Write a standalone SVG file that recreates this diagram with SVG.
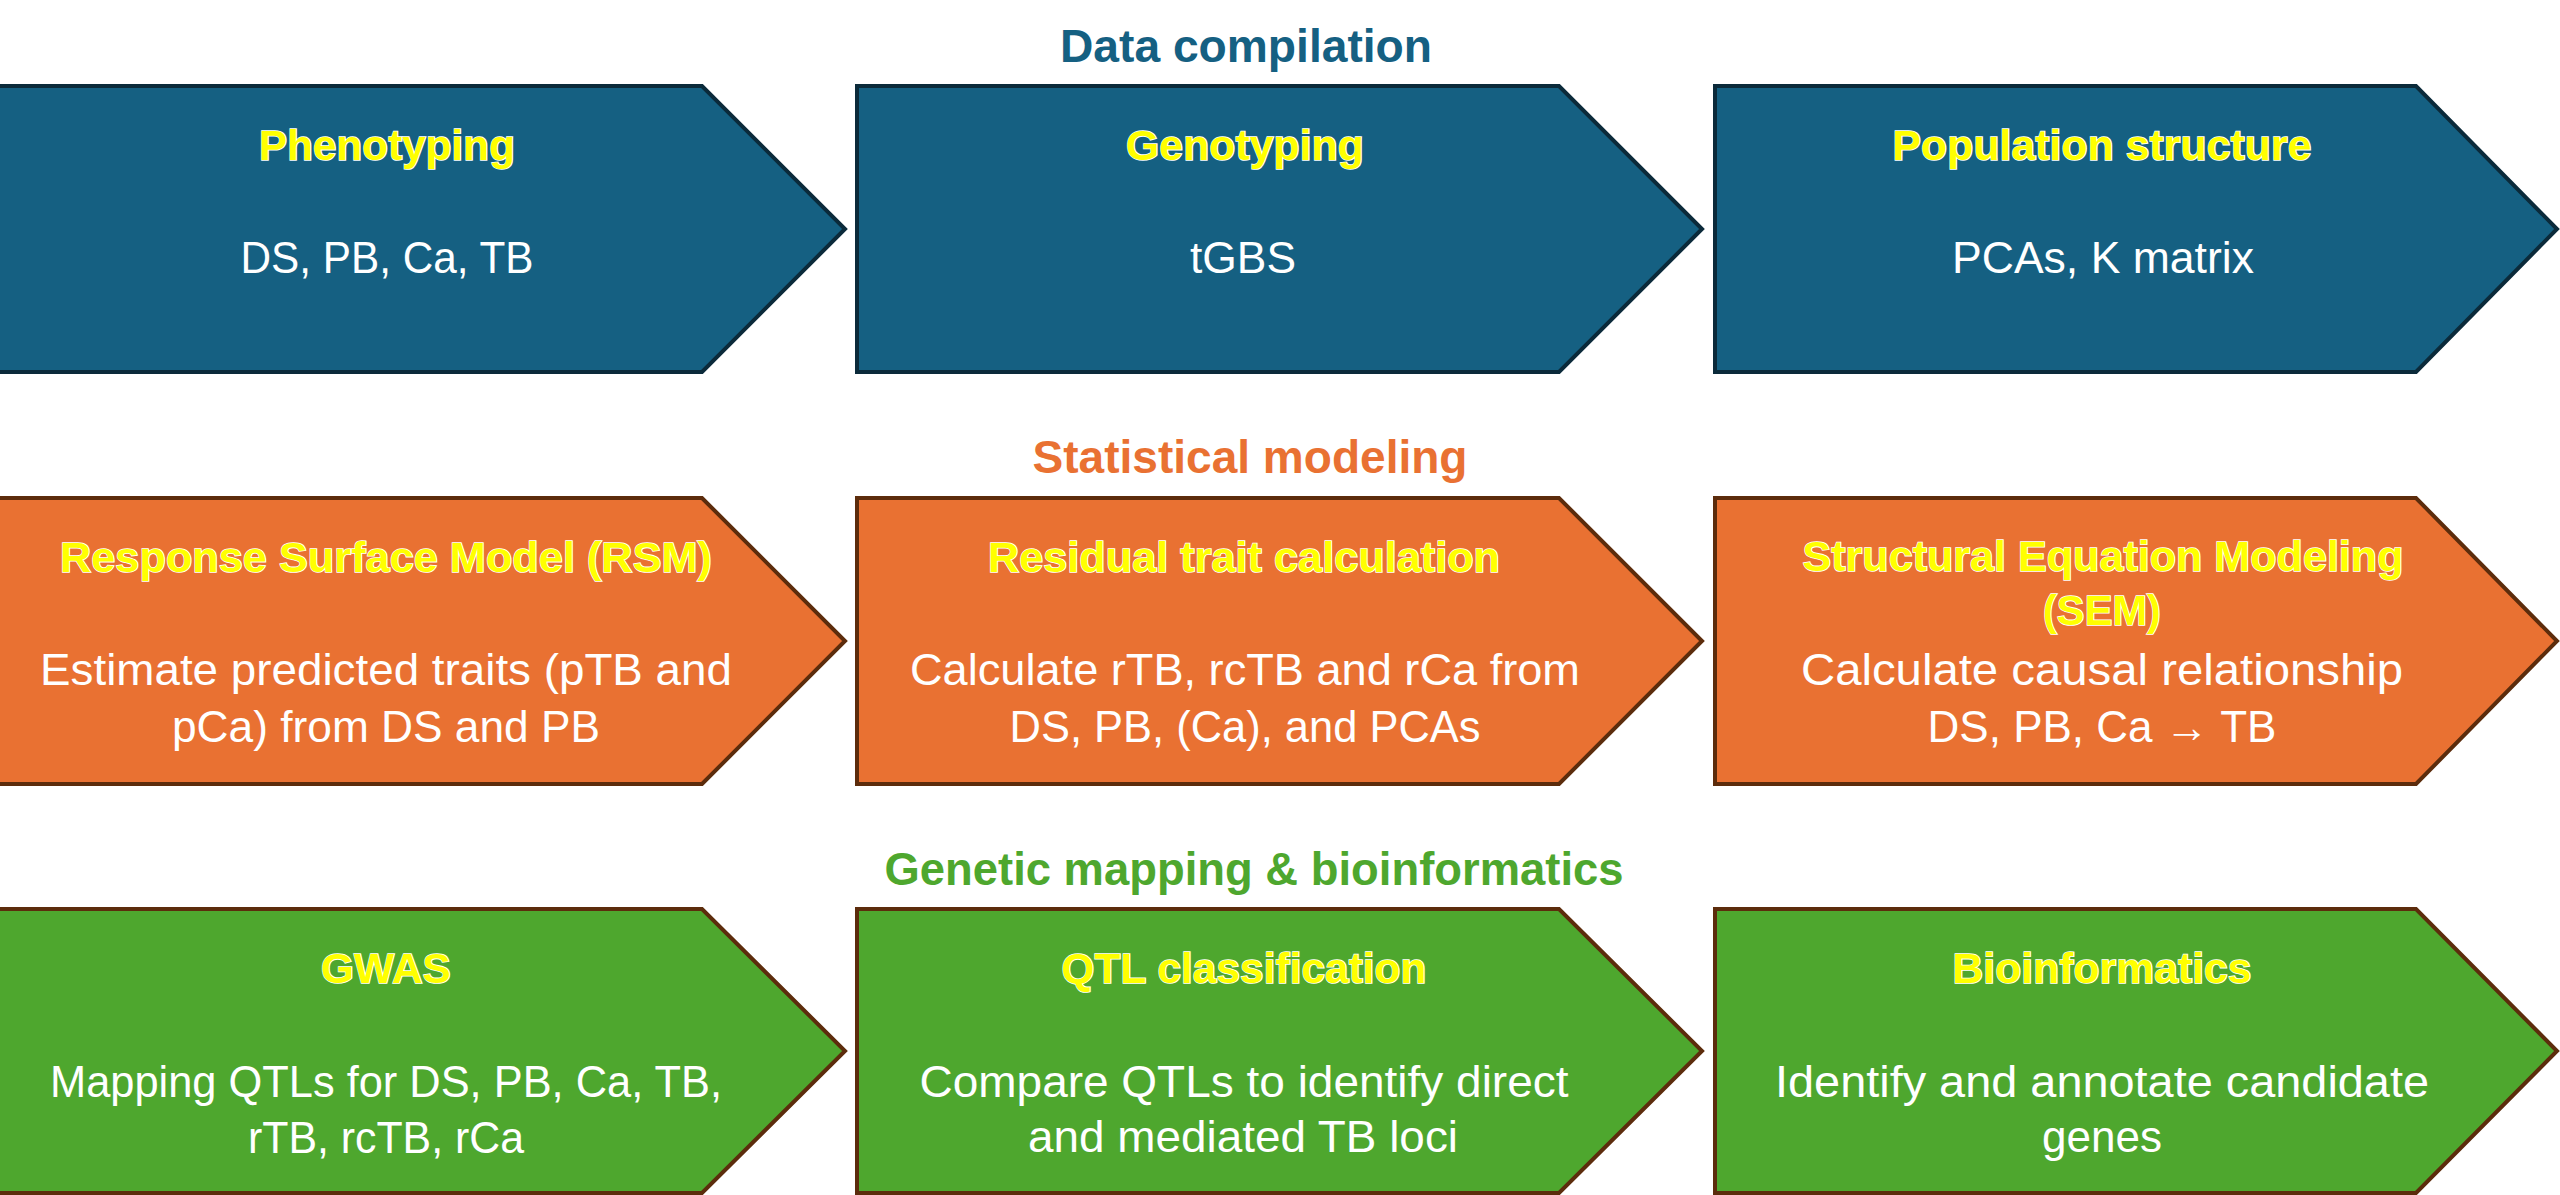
<svg xmlns="http://www.w3.org/2000/svg" width="2560" height="1195" viewBox="0 0 2560 1195">
<style>
.blue{fill:#156082;stroke:#0B2A3A;stroke-width:4;stroke-linejoin:miter}
.orange{fill:#E97132;stroke:#5C2C0C;stroke-width:4;stroke-linejoin:miter}
.green{fill:#4EA72E;stroke:#5C2C0C;stroke-width:4;stroke-linejoin:miter}
.head{font-family:"Liberation Sans",Arial,sans-serif;font-weight:bold;font-size:46px;text-anchor:middle}
.title{font-family:"Liberation Sans",Arial,sans-serif;font-weight:bold;font-size:43px;text-anchor:middle;fill:#FFFF00;stroke:#FFFFFF;stroke-width:1.6;paint-order:stroke}
.body{font-family:"Liberation Sans",Arial,sans-serif;font-size:44px;text-anchor:middle;fill:#FFFFFF}
</style>
<rect width="2560" height="1195" fill="#FFFFFF"/>
<g id="headings">
<text class="head" x="1246" y="62" fill="#156082" textLength="372" lengthAdjust="spacingAndGlyphs">Data compilation</text>
<text class="head" x="1250" y="473" fill="#E97132" textLength="435" lengthAdjust="spacingAndGlyphs">Statistical modeling</text>
<text class="head" x="1254" y="885" fill="#4EA72E" textLength="739" lengthAdjust="spacingAndGlyphs">Genetic mapping &amp; bioinformatics</text>
</g>
<g id="connectors"></g>
<g id="phenotyping">
<polygon class="blue" points="-2,86 702,86 845,229 702,372 -2,372"/>
<text class="title" x="387" y="160" textLength="256" lengthAdjust="spacingAndGlyphs">Phenotyping</text>
<text class="body" x="387" y="273" textLength="293" lengthAdjust="spacingAndGlyphs">DS, PB, Ca, TB</text>
</g>
<g id="genotyping">
<polygon class="blue" points="857,86 1559,86 1702,229 1559,372 857,372"/>
<text class="title" x="1245" y="160" textLength="238" lengthAdjust="spacingAndGlyphs">Genotyping</text>
<text class="body" x="1243" y="273" textLength="106" lengthAdjust="spacingAndGlyphs">tGBS</text>
</g>
<g id="population-structure">
<polygon class="blue" points="1715,86 2416,86 2557,229 2416,372 1715,372"/>
<text class="title" x="2102" y="160" textLength="419" lengthAdjust="spacingAndGlyphs">Population structure</text>
<text class="body" x="2103" y="273" textLength="302" lengthAdjust="spacingAndGlyphs">PCAs, K matrix</text>
</g>
<g id="rsm">
<polygon class="orange" points="-2,498 702,498 845,641 702,784 -2,784"/>
<text class="title" x="386" y="572" textLength="652" lengthAdjust="spacingAndGlyphs">Response Surface Model  (RSM)</text>
<text class="body" x="386" y="685" textLength="692" lengthAdjust="spacingAndGlyphs">Estimate predicted traits (pTB and</text>
<text class="body" x="386" y="742" textLength="428" lengthAdjust="spacingAndGlyphs">pCa) from DS and PB</text>
</g>
<g id="residual">
<polygon class="orange" points="857,498 1559,498 1702,641 1559,784 857,784"/>
<text class="title" x="1244" y="572" textLength="512" lengthAdjust="spacingAndGlyphs">Residual trait calculation</text>
<text class="body" x="1245" y="685" textLength="670" lengthAdjust="spacingAndGlyphs">Calculate rTB, rcTB and rCa from</text>
<text class="body" x="1245" y="742" textLength="471" lengthAdjust="spacingAndGlyphs">DS, PB, (Ca), and PCAs</text>
</g>
<g id="sem">
<polygon class="orange" points="1715,498 2416,498 2557,641 2416,784 1715,784"/>
<text class="title" x="2103" y="571" textLength="601" lengthAdjust="spacingAndGlyphs">Structural Equation Modeling</text>
<text class="title" x="2102" y="625" textLength="118" lengthAdjust="spacingAndGlyphs">(SEM)</text>
<text class="body" x="2102" y="685" textLength="602" lengthAdjust="spacingAndGlyphs">Calculate causal relationship</text>
<text class="body" x="2102" y="742" font-size="42">DS, PB, Ca → TB</text>
</g>
<g id="gwas">
<polygon class="green" points="-2,909 702,909 845,1051 702,1193 -2,1193"/>
<text class="title" x="386" y="983" textLength="130" lengthAdjust="spacingAndGlyphs">GWAS</text>
<text class="body" x="386" y="1097" textLength="672" lengthAdjust="spacingAndGlyphs">Mapping QTLs for DS, PB, Ca, TB,</text>
<text class="body" x="386" y="1153" textLength="276" lengthAdjust="spacingAndGlyphs">rTB, rcTB, rCa</text>
</g>
<g id="qtl-classification">
<polygon class="green" points="857,909 1559,909 1702,1051 1559,1193 857,1193"/>
<text class="title" x="1244" y="983" textLength="365" lengthAdjust="spacingAndGlyphs">QTL classification</text>
<text class="body" x="1244" y="1097" textLength="649" lengthAdjust="spacingAndGlyphs">Compare QTLs to identify direct</text>
<text class="body" x="1243" y="1152" textLength="430" lengthAdjust="spacingAndGlyphs">and mediated TB loci</text>
</g>
<g id="bioinformatics">
<polygon class="green" points="1715,909 2416,909 2557,1051 2416,1193 1715,1193"/>
<text class="title" x="2102" y="983" textLength="299" lengthAdjust="spacingAndGlyphs">Bioinformatics</text>
<text class="body" x="2102" y="1097" textLength="654" lengthAdjust="spacingAndGlyphs">Identify and annotate candidate</text>
<text class="body" x="2102" y="1152" textLength="120" lengthAdjust="spacingAndGlyphs">genes</text>
</g>
</svg>
